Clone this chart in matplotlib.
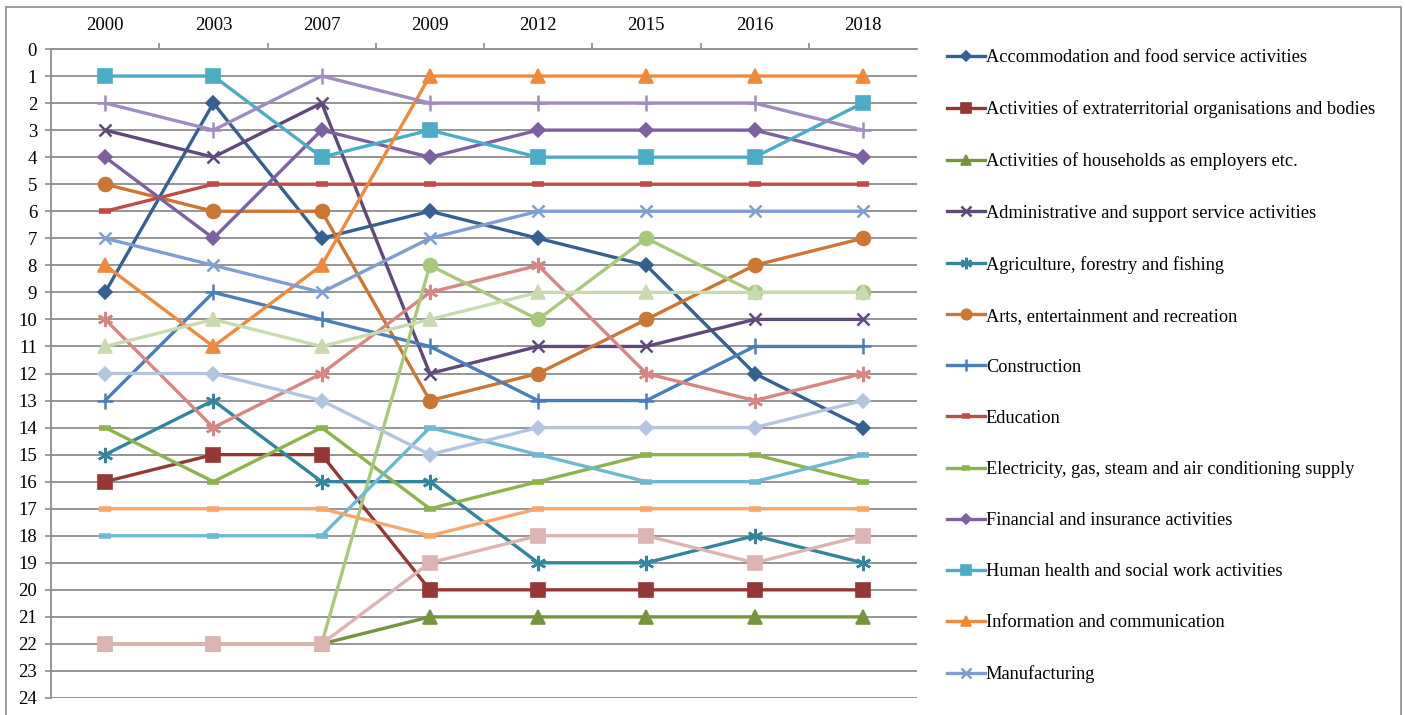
import numpy as np
import matplotlib
matplotlib.use("Agg")
import matplotlib.pyplot as plt
from matplotlib.patches import Rectangle

plt.rcParams['font.family'] = ['Liberation Serif', 'DejaVu Serif']

# x categories (survey years)
years = ['2000', '2003', '2007', '2009', '2012', '2015', '2016', '2018']

# rank of each sector per year
accommodation = [9, 2, 7, 6, 7, 8, 12, 14]
extraterritorial = [16, 15, 15, 20, 20, 20, 20, 20]
households = [22, 22, 22, 21, 21, 21, 21, 21]
administrative = [3, 4, 2, 12, 11, 11, 10, 10]
agriculture = [15, 13, 16, 16, 19, 19, 18, 19]
arts = [5, 6, 6, 13, 12, 10, 8, 7]
construction = [13, 9, 10, 11, 13, 13, 11, 11]
education = [6, 5, 5, 5, 5, 5, 5, 5]
electricity = [14, 16, 14, 17, 16, 15, 15, 16]
financial = [4, 7, 3, 4, 3, 3, 3, 4]
health = [1, 1, 4, 3, 4, 4, 4, 2]
information = [8, 11, 8, 1, 1, 1, 1, 1]
manufacturing = [7, 8, 9, 7, 6, 6, 6, 6]
mining = [10, 14, 12, 9, 8, 12, 13, 12]
other_services = [22, 22, 22, 8, 10, 7, 9, 9]
professional = [2, 3, 1, 2, 2, 2, 2, 3]
public_admin = [18, 18, 18, 14, 15, 16, 16, 15]
real_estate = [17, 17, 17, 18, 17, 17, 17, 17]
transportation = [12, 12, 13, 15, 14, 14, 14, 13]
water_supply = [22, 22, 22, 19, 18, 18, 19, 18]
wholesale = [11, 10, 11, 10, 9, 9, 9, 9]

labels = [
    "Accommodation and food service activities",
    "Activities of extraterritorial organisations and bodies",
    "Activities of households as employers etc.",
    "Administrative and support service activities",
    "Agriculture, forestry and fishing",
    "Arts, entertainment and recreation",
    "Construction",
    "Education",
    "Electricity, gas, steam and air conditioning supply",
    "Financial and insurance activities",
    "Human health and social work activities",
    "Information and communication",
    "Manufacturing",
    "Mining and quarrying",
    "Other service activities",
    "Professional, scientific and technical activities",
    "Public administration and defence",
    "Real estate activities",
    "Transportation and storage",
    "Water supply, sewerage and waste management",
    "Wholesale and retail trade",
]
series = [accommodation, extraterritorial, households, administrative, agriculture,
          arts, construction, education, electricity, financial, health,
          information, manufacturing, mining, other_services, professional,
          public_admin, real_estate, transportation, water_supply, wholesale]

colors = ['#376092', '#953735', '#77933C', '#5F497A', '#31859C', '#CB7632',
          '#4A7EBB', '#BE4B48', '#8CB44A', '#7D60A0', '#4BACC6', '#F08A3A',
          '#7E9ED2', '#D88584', '#A9C97A', '#9E8CC0', '#6DB9D1', '#F9A66B',
          '#B3C4E0', '#DDB4B3', '#C8DAAE']

# excel-ish marker cycle
asterisk = (6, 2, 0)
markers = ['D', 's', '^', 'x', asterisk, 'o', '+', '_', '_'] * 3
msizes = {'D': 7, 's': 10, '^': 10, 'x': 9, 'o': 10, '+': 11, '_': 8}

FS = 13.5

fig = plt.figure(figsize=(14.05, 7.15), dpi=100)
ax = fig.add_axes([51 / 1405, 1 - 698 / 715, 866 / 1405, 649 / 715])

x = np.arange(len(years))
handles = []
for i, (vals, lab, col) in enumerate(zip(series, labels, colors)):
    mk = markers[i]
    if mk == asterisk:
        ms, mew = 11, 1.8
    elif mk == '_':
        ms, mew = msizes[mk], 4
    elif mk in ('x', '+'):
        ms, mew = msizes[mk], 1.8
    else:
        ms, mew = msizes[mk], 1.2
    h, = ax.plot(x, vals, color=col, lw=2.4, marker=mk, markersize=ms,
                 markerfacecolor=col, markeredgecolor=col, markeredgewidth=mew,
                 label=lab, clip_on=False)
    handles.append(h)

ax.set_xlim(-0.5, len(years) - 0.5)
ax.set_ylim(24, 0)
ax.set_yticks(range(25))
ax.grid(axis='y', color='#8c8c8c', lw=1.3)
ax.set_axisbelow(True)

ax.xaxis.tick_top()
ax.set_xticks(x, labels=years)
ax.set_xticks(np.arange(0.5, len(years) - 0.5, 1), minor=True)
ax.tick_params(axis='x', which='major', length=0, pad=11, labelsize=FS)
ax.tick_params(axis='x', which='minor', length=4, width=1.2, color='#8c8c8c',
               top=True, bottom=False)
ax.tick_params(axis='y', length=4, width=1.2, color='#8c8c8c', pad=6, labelsize=FS)

for s in ['right', 'bottom']:
    ax.spines[s].set_visible(False)
for s in ['left', 'top']:
    ax.spines[s].set_color('#8c8c8c')
    ax.spines[s].set_linewidth(1.3)

# only the first 13 entries fit in the original legend box
fig.legend(handles[:13], labels[:13], loc='upper left',
           bbox_to_anchor=(930 / 1405, 1 - 33 / 715), frameon=False,
           fontsize=13.2, labelspacing=1.86, handlelength=2.1,
           handletextpad=0.05, markerscale=0.75)

# outer chart border
fig.patches.append(Rectangle((6 / 1405, -0.05), 1395 / 1405, 1.05 - 7 / 715,
                             transform=fig.transFigure, fill=False,
                             edgecolor='#8c8c8c', lw=1.2))

plt.savefig('out.png', dpi=100)
